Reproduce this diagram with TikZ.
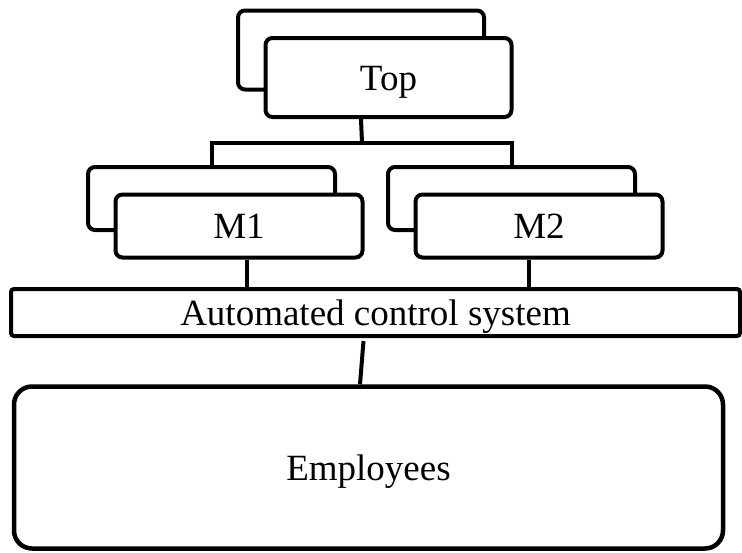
\documentclass[tikz,border=0pt]{standalone}
\usepackage{fontspec}
\setmainfont{Liberation Serif}
\begin{document}
\begin{tikzpicture}[x=1pt,y=-1pt,
  lbl/.style={font=\fontsize{37}{40}\selectfont, text height=25pt, text depth=0pt},
  box/.style={draw, line width=4pt, rounded corners=7pt, fill=white, inner sep=0pt, lbl,
    minimum width=246pt, minimum height=79pt},
  mbox/.style={box, minimum width=247pt, minimum height=63pt},
  wire/.style={line width=4pt}]
\useasboundingbox (0,0) rectangle (742,552);
% back and front boxes
\node[box] (topB) at (361,50) {};
\node[box] (topF) at (388.5,77.5) {Top};
\node[mbox] (m1B) at (211.5,198.5) {};
\node[mbox] (m1F) at (239,226) {M1};
\node[mbox] (m2B) at (511.5,198.5) {};
\node[mbox] (m2F) at (539,226) {M2};
% automated control system
\node[draw, line width=4pt, rounded corners=3pt, inner sep=0pt, lbl,
  minimum width=729pt, minimum height=47pt]
  (acs) at (375.5,312.5) {Automated control system};
% employees
\node[draw, line width=4.5pt, rounded corners=18pt, inner sep=0pt, lbl,
  minimum width=709pt, minimum height=162pt]
  (emp) at (368.5,467.5) {Employees};
% connectors
\coordinate (br) at (362,143);
\draw[wire] (topF.south -| topB.center) -- (br);
\draw[wire] (m1B.north) |- (br) -| (m2B.north);
\draw[wire] ([xshift=8pt]m1F.south) -- ([xshift=8pt]m1F.south |- acs.north);
\draw[wire] ([xshift=-10pt]m2F.south) -- ([xshift=-10pt]m2F.south |- acs.north);
\draw[wire] ([xshift=-12pt,yshift=-3pt]acs.south) -- ([xshift=-8.5pt]emp.north);
\end{tikzpicture}
\end{document}
